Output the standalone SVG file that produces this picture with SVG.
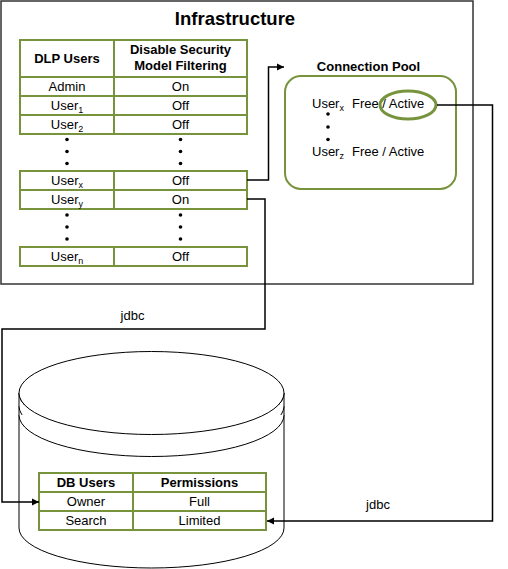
<svg xmlns="http://www.w3.org/2000/svg" width="508" height="569" viewBox="0 0 508 569">
<defs>
<style>
text{font-family:"Liberation Sans",Arial,sans-serif;font-size:13px;fill:#000;text-anchor:middle}
.b{font-weight:bold}
.t{font-size:18.5px;font-weight:bold}
.s{text-anchor:start}
.sub{font-size:9px}
.cell{fill:#fff;stroke:#77933C;stroke-width:2}
.conn{fill:none;stroke:#000;stroke-width:1.5}
.cyl{fill:#fff;stroke:#000;stroke-width:1}
</style>
<marker id="arr" viewBox="0 0 10 10" refX="10" refY="5" markerWidth="7" markerHeight="8" markerUnits="userSpaceOnUse" orient="auto"><path d="M0,0 L10,5 L0,10 z" fill="#000"/></marker>
</defs>
<rect width="508" height="569" fill="#fff"/>

<g id="infrastructure">
<rect x="1" y="1" width="472" height="283" fill="#fff" stroke="#333" stroke-width="1.5"/>
<text class="t" x="235" y="25">Infrastructure</text>
</g>

<g id="dlp-table">
<rect class="cell" x="20" y="40" width="94" height="37"/>
<rect class="cell" x="114" y="40" width="133" height="37"/>
<text class="b" x="67" y="63">DLP Users</text>
<text class="b" x="180.5" y="54">Disable Security</text>
<text class="b" x="180.5" y="70">Model Filtering</text>
<rect class="cell" x="20" y="77" width="94" height="19"/>
<rect class="cell" x="114" y="77" width="133" height="19"/>
<text x="67" y="91">Admin</text><text x="180.5" y="91">On</text>
<rect class="cell" x="20" y="96" width="94" height="19"/>
<rect class="cell" x="114" y="96" width="133" height="19"/>
<text x="67" y="110">User<tspan class="sub" dy="3">1</tspan></text><text x="180.5" y="110">Off</text>
<rect class="cell" x="20" y="115" width="94" height="19"/>
<rect class="cell" x="114" y="115" width="133" height="19"/>
<text x="67" y="129">User<tspan class="sub" dy="3">2</tspan></text><text x="180.5" y="129">Off</text>
<g fill="#000">
<circle cx="67" cy="139.5" r="1.8"/><circle cx="67" cy="151.5" r="1.8"/><circle cx="67" cy="163.5" r="1.8"/>
<circle cx="180.5" cy="139.5" r="1.8"/><circle cx="180.5" cy="151.5" r="1.8"/><circle cx="180.5" cy="163.5" r="1.8"/>
</g>
<rect class="cell" x="20" y="171" width="94" height="19"/>
<rect class="cell" x="114" y="171" width="133" height="19"/>
<text x="67" y="185">User<tspan class="sub" dy="3">x</tspan></text><text x="180.5" y="185">Off</text>
<rect class="cell" x="20" y="190" width="94" height="19"/>
<rect class="cell" x="114" y="190" width="133" height="19"/>
<text x="67" y="204">User<tspan class="sub" dy="3">y</tspan></text><text x="180.5" y="204">On</text>
<g fill="#000">
<circle cx="67" cy="215" r="1.8"/><circle cx="67" cy="227" r="1.8"/><circle cx="67" cy="239" r="1.8"/>
<circle cx="180.5" cy="215" r="1.8"/><circle cx="180.5" cy="227" r="1.8"/><circle cx="180.5" cy="239" r="1.8"/>
</g>
<rect class="cell" x="20" y="247" width="94" height="19"/>
<rect class="cell" x="114" y="247" width="133" height="19"/>
<text x="67" y="261">User<tspan class="sub" dy="3">n</tspan></text><text x="180.5" y="261">Off</text>
</g>

<g id="connection-pool">
<text class="b" x="368.5" y="71">Connection Pool</text>
<rect x="285" y="76" width="171" height="113" rx="16" ry="16" fill="#fff" stroke="#77933C" stroke-width="2"/>
<text class="s" x="312" y="108">User<tspan class="sub" dy="3">x</tspan></text>
<text class="s" x="352" y="108">Free / Active</text>
<ellipse cx="408" cy="105" rx="28" ry="14" fill="none" stroke="#77933C" stroke-width="3"/>
<g fill="#000"><circle cx="328" cy="114" r="1.8"/><circle cx="328" cy="127" r="1.8"/><circle cx="328" cy="139.5" r="1.8"/></g>
<text class="s" x="312" y="156">User<tspan class="sub" dy="3">z</tspan></text>
<text class="s" x="352" y="156">Free / Active</text>
</g>

<g id="database">
<path class="cyl" d="M19,393 V528 A132.5,40 0 0 0 284,528 V393"/>
<ellipse class="cyl" cx="151.5" cy="393" rx="132.5" ry="41.5"/>
<path class="cyl" fill="none" d="M19,406 A132.5,41.5 0 0 0 284,406"/>
<path class="cyl" fill="none" d="M19,415 A132.5,41.5 0 0 0 284,415"/>
<path class="cyl" fill="none" d="M19,393 A132.5,41.5 0 0 0 284,393"/>
</g>

<g id="db-table">
<rect class="cell" x="39" y="473" width="94" height="19"/>
<rect class="cell" x="133" y="473" width="133" height="19"/>
<text class="b" x="86" y="487">DB Users</text><text class="b" x="199.5" y="487">Permissions</text>
<rect class="cell" x="39" y="492" width="94" height="19"/>
<rect class="cell" x="133" y="492" width="133" height="19"/>
<text x="86" y="506">Owner</text><text x="199.5" y="506">Full</text>
<rect class="cell" x="39" y="511" width="94" height="19"/>
<rect class="cell" x="133" y="511" width="133" height="19"/>
<text x="86" y="525">Search</text><text x="199.5" y="525">Limited</text>
</g>

<g id="connectors">
<path class="conn" d="M247,180 H268.5 V67 H284" marker-end="url(#arr)"/>
<path class="conn" d="M247,199 H265 V329 H2 V502 H39" marker-end="url(#arr)"/>
<path class="conn" d="M437,105 H492.5 V521 H267" marker-end="url(#arr)"/>
<text x="132.5" y="320">jdbc</text>
<text x="378" y="509">jdbc</text>
</g>
</svg>
